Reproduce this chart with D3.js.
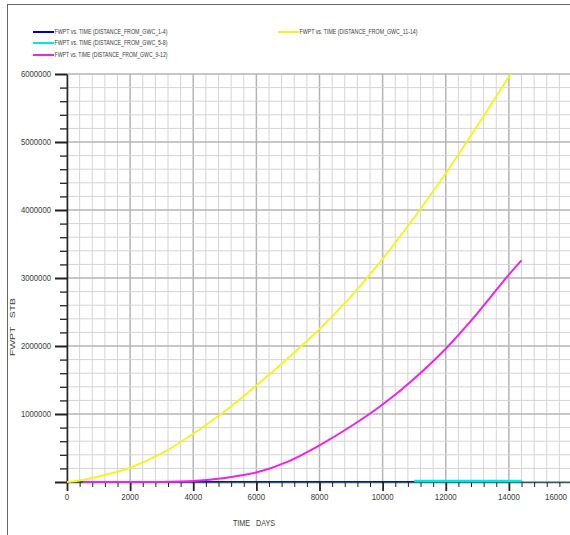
<!DOCTYPE html>
<html>
<head>
<meta charset="utf-8">
<script src="https://cdn.jsdelivr.net/npm/d3@7"></script>
<style>
  html, body { margin: 0; padding: 0; background: #fff; }
  svg { display: block; }
  text { font-family: "Liberation Sans", Arial, sans-serif; fill: #3a3a3a; }
</style>
</head>
<body>
<svg id="chart" width="570" height="535"></svg>
<script>
// Field water production total (STB) against time (days), per GWC distance group
const days = [0, 500, 1000, 2000, 3000, 4000, 5000, 6000, 7000, 8000, 9000, 10000, 11000, 12000, 13000, 14000, 14400];
const fwptGwc1to4   = [0, 0, 0, 0, 0, 0, 0, 0, 0, 0, 0, 0, 0, 0, 0, 0, 0];
const fwptGwc5to8   = [0, 0, 0, 0, 0, 0, 0, 0, 0, 0, 0, 0, 15000, 15000, 15000, 15000, 15000];
const fwptGwc9to12  = [null, 0, 0, 0, 0, 15000, 60000, 140000, 300000, 540000, 820000, 1140000, 1520000, 1960000, 2480000, 3050000, 3260000];
const fwptGwc11to14 = [0, 30000, 80000, 210000, 420000, 710000, 1040000, 1420000, 1820000, 2250000, 2730000, 3280000, 3890000, 4540000, 5240000, 5960000, 6250000];

const seriesNames = [
  "FWPT vs. TIME (DISTANCE_FROM_GWC_1-4)",
  "FWPT vs. TIME (DISTANCE_FROM_GWC_5-8)",
  "FWPT vs. TIME (DISTANCE_FROM_GWC_9-12)",
  "FWPT vs. TIME (DISTANCE_FROM_GWC_11-14)"
];
const seriesColors = ["#0000b4", "#00e6e6", "#ee22ee", "#f4f41e"];
const seriesValues = [fwptGwc1to4, fwptGwc5to8, fwptGwc9to12, fwptGwc11to14];

const xTicks = [0, 2000, 4000, 6000, 8000, 10000, 12000, 14000, 16000];
const yTicks = [1000000, 2000000, 3000000, 4000000, 5000000, 6000000];
const xTitle = "TIME   DAYS";
const yTitle = "FWPT   STB";

const svg = d3.select("#chart");
const plotL = 67, plotR = 572, plotT = 74, plotB = 482;

const x = d3.scaleLinear().domain([0, 16000]).range([plotL, plotR]);
const y = d3.scaleLinear().domain([0, 6000000]).range([plotB, plotT]);

// outer frame
svg.append("rect").attr("x", 7.5).attr("y", 4.5).attr("width", 620).attr("height", 620)
  .attr("fill", "none").attr("stroke", "#666").attr("stroke-width", 1);

// grid
const grid = svg.append("g");
const xMinor = d3.range(0, 16001, 400);
const yMinor = d3.range(0, 6000001, 200000);
grid.selectAll("line.xg").data(xMinor).join("line")
  .attr("x1", d => x(d)).attr("x2", d => x(d)).attr("y1", plotT).attr("y2", plotB)
  .attr("stroke", d => d % 2000 === 0 ? "#b4b4b4" : "#d4d4d4")
  .attr("stroke-width", d => d % 2000 === 0 ? 1.5 : 1);
grid.selectAll("line.yg").data(yMinor).join("line")
  .attr("y1", d => y(d)).attr("y2", d => y(d)).attr("x1", plotL).attr("x2", plotR)
  .attr("stroke", d => d % 1000000 === 0 ? "#b4b4b4" : "#d4d4d4")
  .attr("stroke-width", d => d % 1000000 === 0 ? 1.5 : 1);

// data lines, clipped to the plot area
svg.append("clipPath").attr("id", "plotClip").append("rect")
  .attr("x", plotL).attr("y", plotT).attr("width", plotR - plotL).attr("height", plotB - plotT + 2);

const line = d3.line()
  .defined(d => d[1] !== null)
  .curve(d3.curveCatmullRom.alpha(0.5))
  .x(d => x(d[0])).y(d => y(d[1]));

function seriesPoints(i) {
  let pts = days.map((d, k) => [d, seriesValues[i][k]]);
  if (i === 1) pts = pts.filter(p => p[0] >= 11000);
  return pts;
}

// the first group lies on the time axis, beneath it
const under = svg.append("g").attr("clip-path", "url(#plotClip)");
under.append("path").datum(seriesPoints(0))
  .attr("fill", "none").attr("stroke", seriesColors[0]).attr("stroke-width", 2)
  .attr("d", line);

// axes
const xAxis = d3.axisBottom(x).tickValues(xMinor).tickSize(0).tickFormat("");
const yAxis = d3.axisLeft(y).tickValues(yMinor).tickSize(0).tickFormat("");
const gx = svg.append("g").attr("transform", `translate(0,${plotB})`).call(xAxis);
const gy = svg.append("g").attr("transform", `translate(${plotL},0)`).call(yAxis);
gx.select(".domain").attr("stroke", "#2a6060").attr("stroke-width", 1.3);
gy.select(".domain").attr("stroke", "#222").attr("stroke-width", 1.5);
gx.selectAll(".tick line")
  .attr("y2", d => d % 2000 === 0 ? 9 : 5)
  .attr("stroke", "#222")
  .attr("stroke-width", d => d % 2000 === 0 ? 1.8 : 1);
gy.selectAll(".tick line")
  .attr("x2", d => d % 1000000 === 0 ? -12 : -7)
  .attr("stroke", "#222")
  .attr("stroke-width", d => d % 1000000 === 0 ? 2 : 1.3);

// remaining groups drawn over the axis line
const plot = svg.append("g").attr("clip-path", "url(#plotClip)");
[1, 2, 3].forEach(i => {
  plot.append("path").datum(seriesPoints(i))
    .attr("fill", "none")
    .attr("stroke", seriesColors[i])
    .attr("stroke-width", i === 1 ? 2.5 : 2)
    .attr("d", line);
});

// tick labels (narrow numerals)
svg.append("g").selectAll("text").data(xTicks).join("text")
  .attr("x", d => d === 16000 ? 567 : x(d)).attr("y", 500)
  .attr("text-anchor", d => d === 16000 ? "end" : "middle")
  .attr("font-size", 9.5)
  .attr("textLength", d => String(d).length * 4.4)
  .attr("lengthAdjust", "spacingAndGlyphs")
  .text(d => String(d));
svg.append("g").selectAll("text").data(yTicks).join("text")
  .attr("x", 51).attr("y", d => y(d) + 3)
  .attr("text-anchor", "end")
  .attr("font-size", 9)
  .attr("textLength", d => String(d).length * 4.3)
  .attr("lengthAdjust", "spacingAndGlyphs")
  .text(d => String(d));

// axis titles
svg.append("text").attr("x", 254).attr("y", 526).attr("text-anchor", "middle")
  .attr("font-size", 9).attr("xml:space", "preserve")
  .attr("textLength", 42).attr("lengthAdjust", "spacingAndGlyphs").text(xTitle);
svg.append("text").attr("transform", "translate(15,327) rotate(-90)")
  .attr("text-anchor", "middle").attr("font-size", 8)
  .attr("xml:space", "preserve")
  .attr("textLength", 58).attr("lengthAdjust", "spacingAndGlyphs").text(yTitle);

// legend
const legendPos = [[33, 32, 113], [33, 43, 113], [33, 55, 113], [278, 32, 118]];
const legend = svg.append("g");
seriesNames.forEach((name, i) => {
  const [lx, ly, tl] = legendPos[i];
  legend.append("line").attr("x1", lx).attr("x2", lx + 21).attr("y1", ly).attr("y2", ly)
    .attr("stroke", seriesColors[i]).attr("stroke-width", 2);
  legend.append("text").attr("x", lx + 21.5).attr("y", ly + 2.3)
    .attr("font-size", 6.5)
    .attr("textLength", tl).attr("lengthAdjust", "spacingAndGlyphs")
    .text(name);
});
</script>
</body>
</html>
